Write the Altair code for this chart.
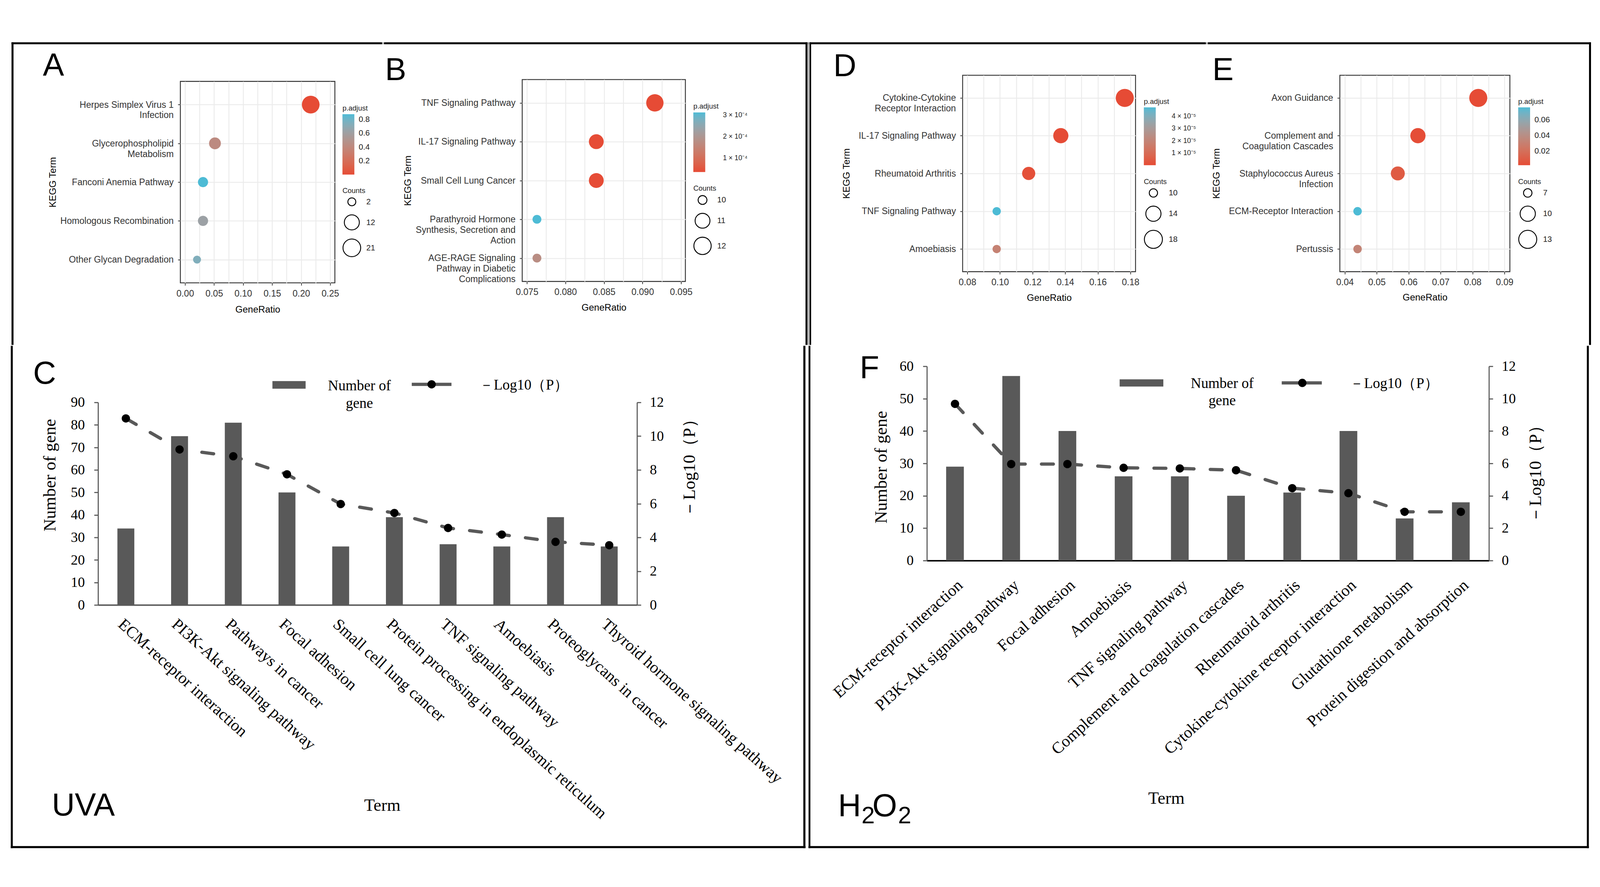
import altair as alt
import numpy as np
import pandas as pd

# ---------------- data ----------------
A_terms = ["Herpes Simplex Virus 1\nInfection", "Glycerophospholipid\nMetabolism",
           "Fanconi Anemia Pathway", "Homologous Recombination", "Other Glycan Degradation"]
A_ratio = [0.2165, 0.0515, 0.0309, 0.0309, 0.0206]
A_count = [21, 5, 3, 3, 2]
A_padj = [0.002, 0.42, 0.873, 0.62, 0.74]
A_xticks = [0.00, 0.05, 0.10, 0.15, 0.20, 0.25]
A_cticks = [0.2, 0.4, 0.6, 0.8]
A_sticks = [2, 12, 21]

B_terms = ["TNF Signaling Pathway", "IL-17 Signaling Pathway", "Small Cell Lung Cancer",
           "Parathyroid Hormone\nSynthesis, Secretion and\nAction",
           "AGE-RAGE Signaling\nPathway in Diabetic\nComplications"]
B_ratio = [0.0916, 0.0840, 0.0840, 0.0763, 0.0763]
B_count = [12, 11, 11, 10, 10]
B_padj = [3.55e-5, 3.7e-5, 3.7e-5, 3.12e-4, 1.75e-4]
B_xticks = [0.075, 0.080, 0.085, 0.090, 0.095]
B_cticks = [1e-4, 2e-4, 3e-4]
B_sticks = [10, 11, 12]

D_terms = ["Cytokine-Cytokine\nReceptor Interaction", "IL-17 Signaling Pathway",
           "Rheumatoid Arthritis", "TNF Signaling Pathway", "Amoebiasis"]
D_ratio = [0.1765, 0.1373, 0.1176, 0.0980, 0.0980]
D_count = [18, 14, 12, 10, 10]
D_padj = [2e-8, 4e-7, 1.2e-6, 4.72e-5, 1.9e-5]
D_xticks = [0.08, 0.10, 0.12, 0.14, 0.16, 0.18]
D_cticks = [1e-5, 2e-5, 3e-5, 4e-5]
D_sticks = [10, 14, 18]

E_terms = ["Axon Guidance", "Complement and\nCoagulation Cascades",
           "Staphylococcus Aureus\nInfection", "ECM-Receptor Interaction", "Pertussis"]
E_ratio = [0.0818, 0.0629, 0.0566, 0.0440, 0.0440]
E_count = [13, 10, 9, 7, 7]
E_padj = [0.0021, 0.003, 0.009, 0.0758, 0.033]
E_xticks = [0.04, 0.05, 0.06, 0.07, 0.08, 0.09]
E_cticks = [0.02, 0.04, 0.06]
E_sticks = [7, 10, 13]

C_terms = ["ECM-receptor interaction", "PI3K-Akt signaling pathway", "Pathways in cancer",
           "Focal adhesion", "Small cell lung cancer", "Protein processing in endoplasmic reticulum",
           "TNF signaling pathway", "Amoebiasis", "Proteoglycans in cancer",
           "Thyroid hormone signaling pathway"]
C_genes = [34, 75, 81, 50, 26, 39, 27, 26, 39, 26]
C_logp = [11.05, 9.21, 8.81, 7.74, 5.98, 5.45, 4.56, 4.17, 3.74, 3.54]
C_lticks = [0, 10, 20, 30, 40, 50, 60, 70, 80, 90]
C_rticks = [0, 2, 4, 6, 8, 10, 12]

F_terms = ["ECM-receptor interaction", "PI3K-Akt signaling pathway", "Focal adhesion",
           "Amoebiasis", "TNF signaling pathway", "Complement and coagulation cascades",
           "Rheumatoid arthritis", "Cytokine-cytokine receptor interaction",
           "Glutathione metabolism", "Protein digestion and absorption"]
F_genes = [29, 57, 40, 26, 26, 20, 21, 40, 13, 18]
F_logp = [9.68, 5.96, 5.96, 5.73, 5.69, 5.58, 4.47, 4.16, 3.01, 3.01]
F_lticks = [0, 10, 20, 30, 40, 50, 60]
F_rticks = [0, 2, 4, 6, 8, 10, 12]

# ---------------- helpers ----------------
NARROW = "Liberation Sans Narrow, Liberation Sans, Arial, sans-serif"
SANS = "Liberation Sans, Arial, sans-serif"
SERIF = "Liberation Serif, Times New Roman, serif"
ONE = pd.DataFrame({"k": [0]})
RED, BLUE = "#E64B35", "#4DBBD5"
GRAY = "#595959"

# page layout (chart pixels): each panel owns one tile; tiles abut exactly
TOP_H, TOTAL_H = 852, 2254
LEFT_W, AB_X, DE_X, TOTAL_W = 2223, 1048, 3322, 4399
T = 2.75  # half thickness of the two frame boxes
FRAME_EDGES = []
for (bx0, bx1) in [(24, 2219.5), (2225.5, 4382)]:
    by0, by1 = 16.5, 2240.5
    FRAME_EDGES += [(bx0 - T, bx1 + T, by0 - T, by0 + T), (bx0 - T, bx1 + T, by1 - T, by1 + T),
                    (bx0 - T, bx0 + T, by0 - T, by1 + T), (bx1 - T, bx1 + T, by0 - T, by1 + T)]


def rect_value(x0, x1, y0, y1, **kw):
    return alt.Chart(ONE).mark_rect(**kw).encode(
        x=alt.value(x0), x2=alt.value(x1), y=alt.value(y0), y2=alt.value(y1))


def frame_pieces(box, ref):
    bx0, bx1, by0, by1 = box
    rx, ry = ref
    out = []
    for (x0, x1, y0, y1) in FRAME_EDGES:
        cx0, cx1, cy0, cy1 = max(x0, bx0), min(x1, bx1), max(y0, by0), min(y1, by1)
        if cx1 > cx0 and cy1 > cy0:
            out.append(rect_value(cx0 - rx, cx1 - rx, cy0 - ry, cy1 - ry, color="black"))
    return out


def text_mark(txt, x, y, size, font=SANS, align="left", baseline="alphabetic", **kw):
    return alt.Chart(ONE).mark_text(text=txt, font=font, fontSize=size, align=align,
                                    baseline=baseline, color="black", **kw).encode(
        x=alt.value(x), y=alt.value(y))


def gg_size_scale(cmin, cmax, dmin, dmax):
    ts = np.linspace(0, 1, 11)
    dom = [float(cmin + (cmax - cmin) * t * t) for t in ts]
    rng = [float((dmin + t * (dmax - dmin)) ** 2) for t in ts]
    return alt.Scale(domain=dom, range=rng)


def ind(ch):
    return ch.resolve_scale(color="independent", size="independent")


def unit_spacer(pieces):
    return alt.layer(rect_value(0, 1, 0, 1, opacity=0), *pieces).properties(width=1, height=1)


def tiled(make_panel, tile, origin):
    """Place a panel so that its tile's top-left corner is the group origin."""
    tx0, tx1, ty0, ty1 = tile
    ox, oy = origin
    zy = unit_spacer(frame_pieces((tx0, tx1, ty0, ty0 + 1), (tx0, ty0)))
    zx = unit_spacer(frame_pieces((tx0, tx0 + 1, ty0 + 1, ty1), (tx0, oy)))
    inner = [rect_value(tx0 + 1 - ox, tx1 - ox, ty0 + 1 - oy, ty1 - oy, opacity=0)]
    inner += frame_pieces((tx0 + 1, tx1, ty0 + 1, ty1), (ox, oy))
    panel = make_panel(inner)
    return ind(alt.vconcat(zy, ind(alt.hconcat(zx, panel, spacing=0)), spacing=0))


def bubble(terms, ratio, count, padj, xdom, xticks, xstep, xfmt, cticks, clab, sticks,
           dsz, w, h, ytx, xty, cleg, sleg, letter):
    def make(extra):
        df = pd.DataFrame({"term": terms, "GeneRatio": ratio, "Counts": count, "padj": padj})
        minors = [(a + b) / 2 for a, b in zip(xticks[:-1], xticks[1:])]
        gvals = sorted(list(xticks) + minors)
        major = f"abs(datum.value / {xstep} - round(datum.value / {xstep})) < 0.01"
        xaxis = alt.Axis(title="GeneRatio", values=gvals,
                         labelExpr=f"({major}) ? format(datum.value, '{xfmt}') : ''",
                         tickOpacity={"condition": {"test": major, "value": 1}, "value": 0},
                         tickSize=7, tickWidth=2, tickColor="#333333", domain=False,
                         grid=True, gridColor="#EBEBEB", gridWidth=2.5,
                         labelFont=NARROW, labelFontSize=25, labelColor="#333333",
                         labelPadding=10, labelFlush=False, labelOverlap=False,
                         titleFont=NARROW, titleFontSize=26, titleFontWeight="normal",
                         titleColor="black", titleX=w / 2, titleY=xty,
                         titleAlign="center", titleBaseline="middle")
        yaxis = alt.Axis(title="KEGG Term", labelExpr="split(datum.label, '\\n')",
                         labelFont=NARROW, labelFontSize=25, labelColor="#333333",
                         labelLineHeight=29, labelLimit=1000, labelPadding=12,
                         tickSize=7, tickWidth=2, tickColor="#333333", domain=False,
                         grid=True, gridColor="#EBEBEB", gridWidth=2.5,
                         titleFont=SANS, titleFontSize=26, titleFontWeight="normal",
                         titleColor="black", titleX=ytx, titleY=h / 2, titleAngle=270,
                         titleAlign="center", titleBaseline="middle")
        clx, cly, glen, loff, lfs = cleg
        lab = {"labelExpr": clab} if "datum" in clab else {"format": clab}
        cl = alt.Legend(title="p.adjust", orient="none", legendX=clx, legendY=cly,
                        direction="vertical", gradientLength=glen, gradientThickness=33,
                        gradientStrokeWidth=0, values=cticks, labelOffset=loff,
                        labelFontSize=lfs, labelFont=NARROW, labelColor="#222222",
                        labelOverlap=False, titleFont=NARROW, titleFontSize=20,
                        titleFontWeight="normal", titleColor="#222222", titlePadding=6,
                        padding=0, **lab)
        slx, sly, soff = sleg
        sl = alt.Legend(title="Counts", orient="none", legendX=slx, legendY=sly, values=sticks,
                        format="d", symbolType="circle", symbolFillColor="white",
                        symbolStrokeColor="black", symbolStrokeWidth=2.5, symbolOpacity=1,
                        labelOffset=soff, labelFontSize=22, labelFont=NARROW,
                        labelColor="#222222", titleFont=NARROW, titleFontSize=20,
                        titleFontWeight="normal", titleColor="#222222", titlePadding=8,
                        rowPadding=14, padding=0)
        pts = alt.Chart(df).mark_circle(opacity=1).encode(
            x=alt.X("GeneRatio:Q", scale=alt.Scale(domain=xdom, nice=False, zero=False),
                    axis=xaxis),
            y=alt.Y("term:N", sort=terms, scale=alt.Scale(type="point", padding=0.6),
                    axis=yaxis),
            color=alt.Color("padj:Q", scale=alt.Scale(domain=[min(padj), max(padj)],
                                                      range=[RED, BLUE], interpolate="lab"),
                            legend=cl),
            size=alt.Size("Counts:Q", scale=gg_size_scale(min(count), max(count), *dsz),
                          legend=sl),
        )
        lt, lx, ly = letter
        return alt.layer(pts, text_mark(lt, lx, ly, 88), *extra).properties(
            width=w, height=h, view=alt.ViewBackground(stroke="#333333", strokeWidth=2.5))
    return make


def barline(terms, genes, logp, w, h, ymax, lticks, rticks, pouter, xang, xalign, xpad,
            xdomc, ltit, rtit, ttit, leg, extras):
    def make(extra):
        df = pd.DataFrame({"Term": terms, "genes": genes, "logp": logp})
        xaxis = alt.Axis(labelAngle=xang, labelAlign=xalign, labelBaseline="top",
                         labelPadding=xpad, labelFont=SERIF, labelFontSize=45,
                         labelColor="black", labelLimit=3000, labelOverlap=False, ticks=False,
                         domainColor=xdomc, domainWidth=4, title="Term", titleFont=SERIF,
                         titleFontSize=48, titleFontWeight="normal", titleColor="black",
                         titleX=ttit[0], titleY=ttit[1], titleAlign="center",
                         titleBaseline="middle")
        yax = dict(grid=False, domainColor=GRAY, domainWidth=3, tickColor=GRAY, tickWidth=3,
                   tickSize=11, labelFont=SERIF, labelFontSize=39, labelColor="black",
                   labelFlush=False, titleFont=SERIF, titleFontSize=48,
                   titleFontWeight="normal", titleColor="black", titleAngle=270,
                   titleAlign="center", titleBaseline="middle")
        base = alt.Chart(df).encode(
            x=alt.X("Term:N", sort=terms, title="Term",
                    scale=alt.Scale(paddingInner=0.685, paddingOuter=pouter), axis=xaxis))
        bars = base.mark_bar(color=GRAY).encode(
            y=alt.Y("genes:Q", scale=alt.Scale(domain=[0, ymax], nice=False),
                    axis=alt.Axis(orient="left", values=lticks, title="Number of gene",
                                  labelPadding=26, titleX=ltit[0], titleY=ltit[1], **yax)))
        line = base.mark_line(color=GRAY, strokeWidth=9, strokeDash=[33, 45], strokeCap="round",
                              point=alt.OverlayMarkDef(filled=True, color="black", size=529,
                                                       opacity=1)).encode(
            y=alt.Y("logp:Q", scale=alt.Scale(domain=[0, 12], nice=False),
                    axis=alt.Axis(orient="right", values=rticks, title="－Log10（P）",
                                  labelPadding=24, titleX=rtit[0], titleY=rtit[1], **yax)))
        (rx1, rx2, ry1, ry2), (tx, ty), (lx1, lx2, lyy, dx), (t2x, t2y) = leg
        decos = [
            rect_value(rx1, rx2, ry1, ry2, color=GRAY),
            text_mark(["Number of", "gene"], tx, ty, 40, font=SERIF, align="center",
                      baseline="middle", lineHeight=48),
            alt.Chart(ONE).mark_rule(color=GRAY, strokeWidth=9).encode(
                x=alt.value(lx1), x2=alt.value(lx2), y=alt.value(lyy)),
            alt.Chart(ONE).mark_circle(color="black", size=529, opacity=1).encode(
                x=alt.value(dx), y=alt.value(lyy)),
            text_mark("－Log10（P）", t2x, t2y, 40, font=SERIF, baseline="middle"),
        ] + extras + extra
        return alt.layer(bars, line, *decos).resolve_scale(y="independent").properties(
            width=w, height=h)
    return make


# ---------------- panels ----------------
A = tiled(bubble(A_terms, A_ratio, A_count, A_padj, [-0.0081, 0.2581], A_xticks, 0.05, ".2f",
                 A_cticks, ".1f", A_sticks, (22, 49), 428, 558, -353, 74,
                 (449, 65, 167, 12, 22), (449, 293, 14), ("A", -381, -16)),
          (0, AB_X, 0, TOP_H), (489, 122))
B = tiled(bubble(B_terms, B_ratio, B_count, B_padj, [0.07439, 0.09556], B_xticks, 0.005, ".3f",
                 B_cticks, "format(round(datum.value*1e4), 'd') + ' × 10⁻⁴'", B_sticks,
                 (24.5, 48), 452, 559, -317, 72, (474, 65, 165, 49, 19), (474, 292, 15),
                 ("B", -380, 2)),
          (AB_X, LEFT_W, 0, TOP_H), (1432, 117))
D = tiled(bubble(D_terms, D_ratio, D_count, D_padj, [0.07712, 0.1831], D_xticks, 0.02, ".2f",
                 D_cticks, "format(round(datum.value*1e5), 'd') + ' × 10⁻⁵'", D_sticks,
                 (23, 50), 479, 544, -322, 72, (502, 63, 160, 44, 19), (502, 285, 16),
                 ("D", -358, 3)),
          (LEFT_W, DE_X, 0, TOP_H), (2648, 105))
E = tiled(bubble(E_terms, E_ratio, E_count, E_padj, [0.03845, 0.0917], E_xticks, 0.01, ".2f",
                 E_cticks, ".2f", E_sticks, (23.5, 50), 471, 544, -342, 71,
                 (494, 63, 160, 12, 22), (494, 285, 16), ("E", -353, 14)),
          (DE_X, TOTAL_W, 0, TOP_H), (3689, 105))

C = tiled(barline(C_terms, C_genes, C_logp, 1493, 561, 90, C_lticks, C_rticks, 0.36, 42, "left",
                  30, GRAY, (-132, 201), (146, 170), (787, 555),
                  ((483, 575, -59, -38), (724, -45), (869, 979, -50, 924), (1056, -47)),
                  [text_mark("C", -180, -52, 88), text_mark("UVA", -128, 1144, 88)]),
          (0, LEFT_W, TOP_H, TOTAL_H), (263, 1009))
F = tiled(barline(F_terms, F_genes, F_logp, 1557, 538, 60, F_lticks, F_rticks, 0.3425, 318,
                  "right", 45, "black", (-126, 279), (130, 287), (663, 659),
                  ((534, 655, 36, 56), (818, 48), (983, 1094, 46, 1040), (1171, 48)),
                  [text_mark("F", -186, 33, 88), text_mark("H", -246, 1246, 88),
                   text_mark("2", -181, 1266, 66), text_mark("O", -151, 1246, 88),
                   text_mark("2", -80, 1266, 66)]),
          (LEFT_W, TOTAL_W, TOP_H, TOTAL_H), (2551, 909))

left = ind(alt.vconcat(ind(alt.hconcat(A, B, spacing=0)), C, spacing=0))
right = ind(alt.vconcat(ind(alt.hconcat(D, E, spacing=0)), F, spacing=0))
chart = ind(alt.hconcat(left, right, spacing=0)).properties(
    padding=0, background="white").configure_view(strokeWidth=0)

chart.save("out.html", embed_options={"renderer": "svg", "actions": False})
